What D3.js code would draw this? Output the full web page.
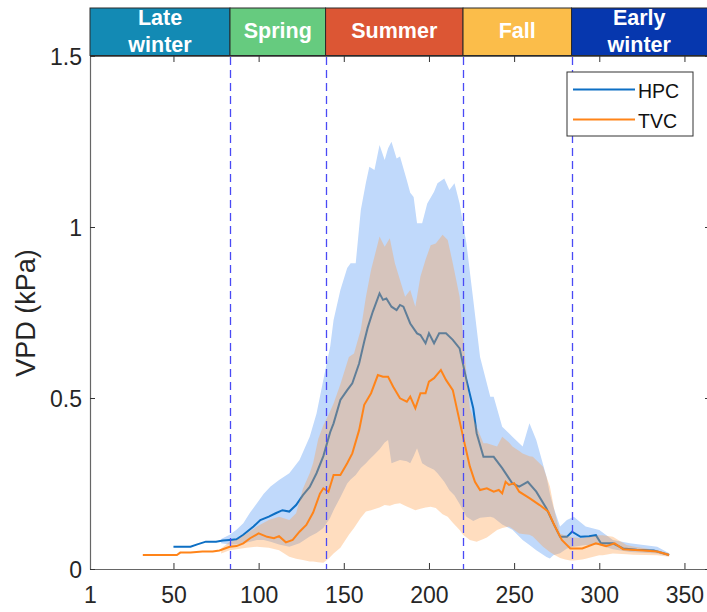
<!DOCTYPE html>
<html><head><meta charset="utf-8">
<script src="https://cdn.jsdelivr.net/npm/d3@7"></script>
<style>body{margin:0;background:#fff}svg{display:block;font-family:"Liberation Sans",Arial,sans-serif}</style>
</head><body><svg id="c" width="707" height="612"></svg>
<script>
// ---- data ----
const xTicks = [1, 50, 100, 150, 200, 250, 300, 350];
const yTicks = [0, 0.5, 1, 1.5];
const seasonNames = [["Late","winter"],["Spring"],["Summer"],["Fall"],["Early","winter"]];
const seasonBounds = [1, 83.2, 139.3, 220, 283.7, 365];
const seasonColors = ["#138AB4","#66CB7F","#DC5634","#FBBD4A","#0637AE"];
const dividerDays = [83.2, 139.3, 220, 283.7];

const hpcDays = [50,56,60,64,69,75,79,83,87,91,97,101,106,110,114,118,122,126,130,134,138,142,144,148,152,155,159,162,164,167,171,173,175,178,181,183,185,189,193,195,198,200,203,206,210,214,218,222,226,228,232,238,243,249,253,258,263,269,273,277,281,284,289,294,298,301,308,314,322,332,341];
const hpcMean = [0.065,0.065,0.065,0.072,0.080,0.080,0.083,0.085,0.087,0.100,0.124,0.143,0.153,0.163,0.172,0.168,0.187,0.216,0.240,0.280,0.330,0.400,0.426,0.494,0.523,0.543,0.601,0.665,0.705,0.752,0.806,0.787,0.791,0.767,0.757,0.772,0.767,0.718,0.689,0.684,0.660,0.689,0.660,0.689,0.689,0.670,0.645,0.553,0.470,0.397,0.328,0.328,0.295,0.250,0.241,0.255,0.226,0.177,0.134,0.094,0.094,0.109,0.094,0.096,0.099,0.075,0.075,0.060,0.056,0.054,0.041];

const tvcDays = [32,52,54,60,67,73,77,83,87,91,95,100,105,109,112,116,120,124,128,132,136,138,141,144,148,152,155,159,162,166,170,173,176,179,183,187,189,192,195,198,200,203,207,210,214,217,220,224,227,230,234,238,241,243,245,247,250,253,259,265,270,274,278,283,290,298,304,309,314,326,334,341];
const tvcMean = [0.041,0.041,0.048,0.048,0.051,0.051,0.054,0.065,0.067,0.075,0.090,0.104,0.094,0.090,0.096,0.078,0.085,0.109,0.129,0.165,0.220,0.236,0.226,0.275,0.275,0.309,0.338,0.406,0.480,0.514,0.567,0.562,0.562,0.533,0.499,0.489,0.504,0.470,0.514,0.514,0.548,0.558,0.582,0.553,0.523,0.455,0.387,0.300,0.255,0.231,0.236,0.226,0.231,0.221,0.255,0.246,0.251,0.226,0.207,0.187,0.168,0.124,0.085,0.060,0.060,0.075,0.067,0.075,0.058,0.054,0.051,0.041];

const hpcBandDays = [78,83,87,91,95,99,103,107,112,118,124,130,134,138,142,144,148,152,154,157,160,163,165,168,171,174,176,178,181,183,187,189,191,193,196,199,203,205,209,212,215,218,222,226,230,236,238,243,249,255,259,263,269,271,273,277,281,285,292,300,308,318,334,341];
const hpcLow = [0.075,0.072,0.072,0.075,0.080,0.085,0.085,0.080,0.072,0.065,0.075,0.095,0.105,0.120,0.150,0.172,0.210,0.250,0.262,0.275,0.295,0.309,0.320,0.335,0.350,0.370,0.377,0.309,0.315,0.319,0.315,0.309,0.330,0.353,0.309,0.300,0.290,0.280,0.255,0.230,0.215,0.190,0.153,0.140,0.150,0.153,0.150,0.130,0.115,0.085,0.070,0.055,0.035,0.031,0.040,0.046,0.060,0.065,0.070,0.070,0.058,0.050,0.045,0.037];
const hpcHigh = [0.088,0.100,0.115,0.134,0.165,0.192,0.220,0.241,0.260,0.280,0.319,0.387,0.455,0.553,0.650,0.728,0.816,0.880,0.894,0.894,1.050,1.130,1.176,1.167,1.240,1.196,1.230,1.249,1.200,1.206,1.137,1.100,1.088,1.011,1.011,1.069,1.103,1.128,1.142,1.108,1.128,1.069,0.952,0.787,0.620,0.504,0.504,0.416,0.387,0.358,0.426,0.377,0.270,0.220,0.182,0.124,0.143,0.153,0.124,0.114,0.085,0.075,0.065,0.046];

const tvcBandDays = [78,83,87,93,99,106,112,118,122,126,130,132,135,138,141,144,148,153,156,160,163,166,171,174,177,180,183,186,189,192,195,198,201,204,208,211,214,218,220,224,228,232,234,240,243,247,249,253,255,259,261,267,271,274,277,280,283,285,290,292,300,302,308,316,320,334,341];
const tvcHigh = [0.060,0.080,0.085,0.104,0.124,0.143,0.153,0.143,0.163,0.235,0.280,0.310,0.380,0.420,0.450,0.484,0.540,0.620,0.630,0.700,0.796,0.874,0.972,0.942,0.967,0.894,0.845,0.796,0.816,0.767,0.855,0.904,0.947,0.952,0.977,0.962,0.894,0.796,0.679,0.470,0.416,0.368,0.368,0.358,0.387,0.370,0.358,0.345,0.338,0.330,0.328,0.299,0.241,0.163,0.104,0.098,0.094,0.092,0.090,0.092,0.099,0.099,0.094,0.070,0.066,0.055,0.046];
const tvcLow = [0.045,0.055,0.058,0.062,0.065,0.062,0.055,0.036,0.030,0.026,0.022,0.022,0.020,0.018,0.030,0.045,0.062,0.100,0.120,0.150,0.168,0.172,0.180,0.187,0.185,0.190,0.192,0.185,0.178,0.172,0.176,0.180,0.182,0.178,0.160,0.153,0.135,0.114,0.100,0.085,0.080,0.088,0.092,0.114,0.120,0.124,0.118,0.104,0.102,0.100,0.095,0.065,0.050,0.040,0.032,0.028,0.025,0.025,0.028,0.030,0.040,0.040,0.045,0.043,0.042,0.040,0.036];

// ---- layout ----
const svg = d3.select("#c");
const x = d3.scaleLinear().domain([1, 365]).range([90, 710]);
const y = d3.scaleLinear().domain([0, 1.5]).range([569, 56]);
const axCol = "#262626";
const FONT = "'Liberation Sans',Arial,sans-serif";

svg.append("defs").append("clipPath").attr("id","clip")
  .append("rect").attr("x",90).attr("y",56).attr("width",620).attr("height",513);
const plot = svg.append("g").attr("clip-path","url(#clip)");

const band = (days, lo, hi) => d3.area()
  .x((d,i)=>x(days[i])).y0((d,i)=>y(lo[i])).y1((d,i)=>y(hi[i]))(days);
const line = (days, vals) => d3.line().x((d,i)=>x(days[i])).y((d,i)=>y(vals[i]))(days);

plot.append("path").attr("d", band(hpcBandDays, hpcLow, hpcHigh)).attr("fill","#C0D9FB");
plot.append("path").attr("d", line(hpcDays, hpcMean)).attr("fill","none").attr("stroke","#0D6FC4").attr("stroke-width",2);
plot.append("path").attr("d", band(tvcBandDays, tvcLow, tvcHigh)).attr("fill","rgb(255,156,69)").attr("fill-opacity",0.344);
plot.append("path").attr("d", line(tvcDays, tvcMean)).attr("fill","none").attr("stroke","#FF8419").attr("stroke-width",2);

// dashed dividers
const px = d => Math.round(x(d)) + 0.5;
plot.selectAll("line.div").data(dividerDays).join("line").attr("class","div")
  .attr("x1",px).attr("x2",px).attr("y1",57).attr("y2",569)
  .attr("stroke","#4A4AF5").attr("stroke-width",1.3).attr("stroke-dasharray","8,5");

// axes
const gx = svg.append("g").attr("transform","translate(0,569)")
  .call(d3.axisBottom(x).tickValues(xTicks).tickSizeInner(-6).tickSizeOuter(0).tickPadding(18));
const gxt = svg.append("g").attr("transform","translate(0,56)")
  .call(d3.axisTop(x).tickValues(xTicks).tickSizeInner(-6).tickSizeOuter(0).tickFormat(""));
const gy = svg.append("g").attr("transform","translate(90,0)")
  .call(d3.axisLeft(y).tickValues(yTicks).tickSizeInner(-5).tickSizeOuter(0).tickPadding(8).tickFormat(d3.format("")));
const gyr = svg.append("g").attr("transform","translate(710,0)")
  .call(d3.axisRight(y).tickValues(yTicks).tickSizeInner(-5).tickSizeOuter(0).tickFormat(""));
[gx,gxt,gy,gyr].forEach(g=>{
  g.select(".domain").attr("stroke","#666").attr("stroke-width",1.2);
  g.selectAll(".tick line").attr("stroke","#333");
  g.selectAll("text").attr("fill",axCol).style("font-size","23px").style("font-family",FONT);
});
gy.selectAll("text").attr("dy","0.36em");

// y label
svg.append("text").attr("transform","translate(35,313) rotate(-90)")
  .attr("text-anchor","middle").attr("fill",axCol).style("font-size","27px").style("font-family",FONT).text("VPD (kPa)");

// season bar
const sg = svg.append("g");
seasonNames.forEach((nm,i)=>{
  const x0 = x(seasonBounds[i]), x1 = x(seasonBounds[i+1]);
  sg.append("rect").attr("x",x0).attr("y",8).attr("width",x1-x0).attr("height",47.5)
    .attr("fill",seasonColors[i]).attr("stroke","#2a2a2a").attr("stroke-width",1);
  const cx = (x0 + Math.min(x1,707))/2;
  const t = sg.append("text").attr("text-anchor","middle").attr("fill","#fff")
    .style("font-size","21.5px").style("font-weight","bold").style("font-family",FONT);
  if (nm.length === 1) {
    t.append("tspan").attr("x",cx).attr("y",37.5).text(nm[0]);
  } else {
    t.append("tspan").attr("x",cx).attr("y",24.5).text(nm[0]);
    t.append("tspan").attr("x",cx).attr("y",52).text(nm[1]);
  }
});

// legend
const lg = svg.append("g");
lg.append("rect").attr("x",567).attr("y",72).attr("width",126).attr("height",64)
  .attr("fill","#fff").attr("stroke","#333").attr("stroke-width",1);
const legItems = [["HPC","#0D6FC4",89.5],["TVC","#FF8419",119.5]];
legItems.forEach(([name,col,yy])=>{
  lg.append("line").attr("x1",573).attr("x2",635).attr("y1",yy).attr("y2",yy).attr("stroke",col).attr("stroke-width",2);
  lg.append("text").attr("x",638).attr("y",yy+8.5).attr("fill","#111").style("font-size","19.5px").style("font-family",FONT).text(name);
});
</script></body></html>
